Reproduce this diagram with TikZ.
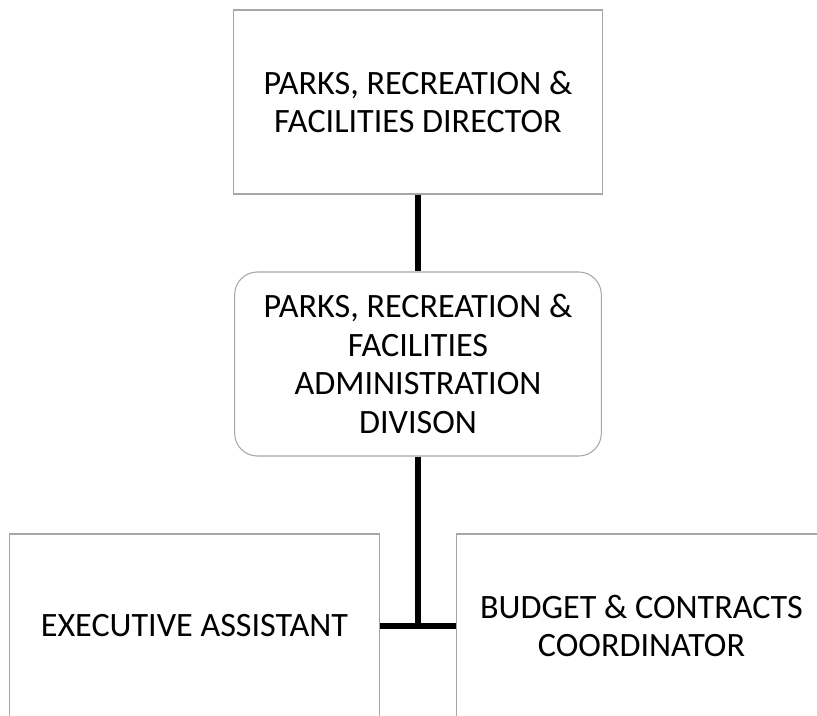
\documentclass[tikz,border=0pt]{standalone}
\usepackage{fontspec}
\setmainfont{Carlito}
\begin{document}
\begin{tikzpicture}[x=0.75pt,y=-0.75pt,
		box/.style={draw=gray!70, line width=0.8pt, align=center,
			minimum width=277pt, minimum height=138pt, inner sep=0pt,
			font=\fontsize{25.6}{29}\selectfont},
		link/.style={line width=3.8pt}]
		\useasboundingbox (0,0) rectangle (817,716);
		\clip (0,0) rectangle (817,716);

		\node [box] at (418,102) (director) {PARKS, RECREATION \&\\FACILITIES DIRECTOR};
		\node [box, rounded corners=17pt, minimum width=275pt] at (418,364) (admin)
			{PARKS, RECREATION \&\\FACILITIES\\ADMINISTRATION\\DIVISON};
		\node [box] at (194.5,626) (assistant) {EXECUTIVE ASSISTANT};
		\node [box] at (641.5,626) (budget) {BUDGET \& CONTRACTS\\COORDINATOR};

		\draw [link] (director) -- (admin);
		\draw [link] (admin) -- (admin |- assistant);
		\draw [link] (assistant) -- (budget);
	\end{tikzpicture}
\end{document}
